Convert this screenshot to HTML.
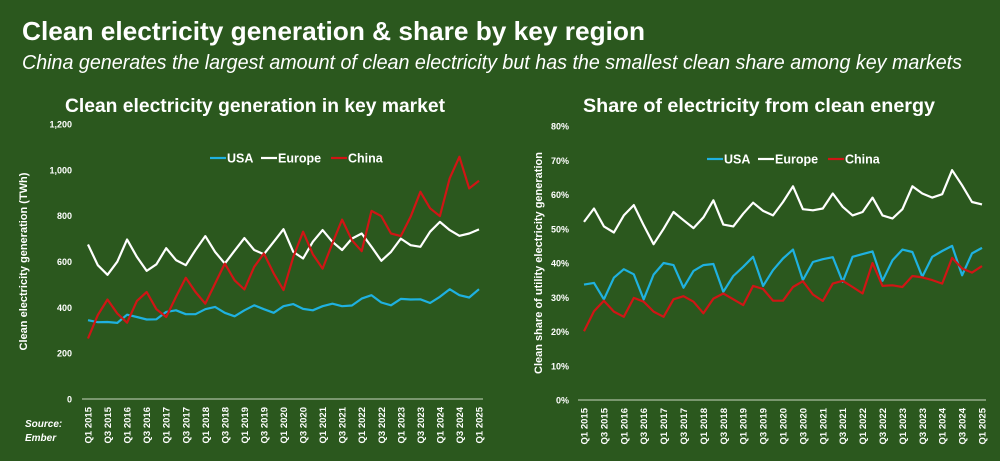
<!DOCTYPE html>
<html><head><meta charset="utf-8"><style>
body{margin:0;background:#2b581e;}
svg{display:block;font-family:"Liberation Sans",sans-serif;}
</style></head><body>
<svg id="s" width="1000" height="461" viewBox="0 0 1000 461">
<rect width="1000" height="461" fill="#2b581e"/>
<text x="22" y="40" font-size="26" font-weight="bold" fill="#fff" textLength="623" lengthAdjust="spacingAndGlyphs">Clean electricity generation &amp; share by key region</text>
<text x="22" y="69" font-size="20" font-style="italic" fill="#fff" textLength="940" lengthAdjust="spacingAndGlyphs">China generates the largest amount of clean electricity but has the smallest clean share among key markets</text>
<text x="65" y="112" font-size="19" font-weight="bold" fill="#fff" textLength="380" lengthAdjust="spacingAndGlyphs">Clean electricity generation in key market</text>
<text x="583" y="112" font-size="19" font-weight="bold" fill="#fff" textLength="352" lengthAdjust="spacingAndGlyphs">Share of electricity from clean energy</text>
<text x="25" y="427" font-size="10" font-weight="bold" font-style="italic" fill="#fff">Source:</text>
<text x="25" y="441" font-size="10" font-weight="bold" font-style="italic" fill="#fff">Ember</text>
<g id="L"></g>
<g id="R"></g>
</svg>
<script>
const quarterLabels=[];for(let y=2015;y<=2025;y++){quarterLabels.push("Q1 "+y);if(y<2025)quarterLabels.push("Q3 "+y);}
const genUSA=[344,335,336,332,368,358,347,348,380,387,370,370,392,402,376,361,387,409,392,376,405,414,393,387,405,416,405,408,438,453,421,409,437,434,435,419,446,479,453,443,479];
const genEurope=[674,584,542,599,696,620,559,588,658,606,584,650,711,642,591,647,702,650,632,686,741,642,613,686,737,686,650,700,722,664,603,642,700,671,664,730,773,737,712,722,740];
const genChina=[264,366,434,373,333,428,467,392,358,446,529,467,416,504,591,518,478,577,635,548,475,620,730,632,569,679,783,693,645,821,798,722,711,795,904,832,798,963,1057,919,952];
const genTicks=[0,200,400,600,800,1000,1200];
const shareUSA=[33.7,34.2,29.4,35.7,38.2,36.7,29.4,36.6,40.0,39.4,32.8,37.7,39.4,39.7,31.6,36.2,38.9,41.8,33.3,37.9,41.3,43.9,35.0,40.3,41.1,41.7,34.5,41.8,42.6,43.4,34.8,40.8,43.9,43.2,36.0,41.8,43.5,45.0,36.4,42.8,44.4];
const shareEurope=[52.0,55.9,50.7,48.9,53.9,56.9,51.0,45.5,50.0,54.9,52.5,50.2,53.3,58.3,51.2,50.7,54.4,57.6,55.2,53.9,57.8,62.4,55.7,55.4,55.9,60.3,56.4,53.9,54.9,59.1,53.9,53.0,55.7,62.4,60.3,59.1,60.1,67.1,62.7,57.8,57.1];
const shareChina=[20.1,25.9,29.0,25.8,24.3,29.8,28.7,25.8,24.3,29.4,30.3,28.7,25.3,29.6,31.1,29.4,27.7,33.3,32.4,29.0,29.0,33.0,34.7,30.8,28.9,34.0,34.8,33.0,31.1,40.0,33.3,33.5,33.0,36.2,35.8,35.0,34.0,41.5,38.4,37.2,39.1];
const shareTicks=[0,10,20,30,40,50,60,70,80];
const NS="http://www.w3.org/2000/svg";
function mk(p,t,a){const e=document.createElementNS(NS,t);for(const k in a)e.setAttribute(k,a[k]);p.appendChild(e);return e;}
function chart(g,o){
  const n=o.series[0].v.length;
  const x=i=>o.x0+(o.x1-o.x0)*i/(n-1);
  const y=v=>o.y0-(o.y0-o.y1)*v/o.max;
  o.ticks.forEach(t=>{const e=mk(g,'text',{x:o.tx,y:y(t)+3.5,'font-size':9,'font-weight':'bold',fill:'#fff','text-anchor':'end'});
    
    
    e.textContent=o.fmt(t);});
  const ax=mk(g,'line',{x1:o.x0-6,x2:o.x1+4,y1:o.y0,y2:o.y0,stroke:'#c8d6c0','stroke-width':1});
  
  
  for(let i=0;i<n;i+=2){const xx=x(i)+3.5;const e=mk(g,'text',{x:0,y:0,transform:`translate(${xx},${o.y0+8}) rotate(-90)`,'font-size':9.5,'font-weight':'bold',fill:'#fff','text-anchor':'end'});
    
    
    e.textContent=quarterLabels[i/2];}
  const yt=mk(g,'text',{x:0,y:0,transform:`translate(${o.ytx},${(o.y0+o.y1)/2}) rotate(-90)`,'font-size':11,'font-weight':'bold',fill:'#fff','text-anchor':'middle'});
  
  
  yt.textContent=o.ytitle;
  o.series.forEach(s=>{const pl=mk(g,'polyline',{points:s.v.map((v,i)=>x(i).toFixed(1)+','+y(v).toFixed(1)).join(' '),fill:'none',stroke:s.c,'stroke-width':2.2,'stroke-linejoin':'round'});
    
    });
  let lx=o.lx;
  o.series.forEach(s=>{const l=mk(g,'line',{x1:lx,x2:lx+16,y1:o.ly,y2:o.ly,stroke:s.c,'stroke-width':2.2});
    
    
    const t=mk(g,'text',{x:lx+17,y:o.ly+4.5,'font-size':12.5,'font-weight':'bold',fill:'#fff'});
    
    
    t.textContent=s.n;lx+=s.w;});
}
chart(document.getElementById('L'),{x0:88,x1:479,y0:399,y1:124,max:1200,ticks:genTicks,tx:72,fmt:t=>t.toLocaleString('en-US'),ytx:27,ytitle:'Clean electricity generation (TWh)',lx:210,ly:158,
 series:[{n:'USA',v:genUSA,c:'#1fb1e0',w:51},{n:'Europe',v:genEurope,c:'#ffffff',w:70},{n:'China',v:genChina,c:'#d01515',w:60}]});
chart(document.getElementById('R'),{x0:584,x1:982,y0:400,y1:126,max:80,ticks:shareTicks,tx:569,fmt:t=>t+'%',ytx:542,ytitle:'Clean share of utility electricity generation',lx:707,ly:159,
 series:[{n:'USA',v:shareUSA,c:'#1fb1e0',w:51},{n:'Europe',v:shareEurope,c:'#ffffff',w:70},{n:'China',v:shareChina,c:'#d01515',w:60}]});
</script>
</body></html>
